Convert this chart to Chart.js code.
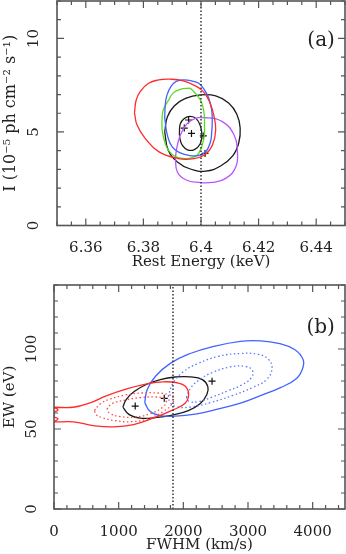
<!DOCTYPE html>
<html lang="en">
<head>
<meta charset="UTF-8">
<script src="https://cdn.jsdelivr.net/npm/chart.js@4.4.0/dist/chart.umd.min.js"></script>
<title>Fe K line contours</title>
<style>
  body { margin: 0; background: #fff; }
  .panel { position: absolute; left: 0; width: 346px; }
  #panelA { top: 0; height: 280px; }
  #panelB { top: 280px; height: 274px; }
</style>
</head>
<body>
<div class="panel" id="panelA"><canvas id="chartA"></canvas></div>
<div class="panel" id="panelB"><canvas id="chartB"></canvas></div>
<script>
// ---- panel (a): rest energy (keV) vs line intensity (1e-5 ph/cm2/s)
const energyTicks = [6.36, 6.38, 6.40, 6.42, 6.44];
const intensTicks = [0, 5, 10];
const restLine = 6.4;

const redE = [6.3769,6.3775,6.3789,6.3818,6.3853,6.3893,6.3939,6.3981,6.4009,6.4030,6.4044,6.4051,6.4040,6.4012,6.3970,6.3921,6.3853,6.3806,6.3778];
const redI = [6.02,6.71,7.16,7.60,7.78,7.82,7.73,7.46,7.14,6.60,5.91,5.11,4.31,3.77,3.56,3.58,3.95,4.66,5.37];
const blueE = [6.3874,6.3876,6.3882,6.3897,6.3914,6.3939,6.3967,6.3992,6.4012,6.4027,6.4037,6.4039,6.4037,6.4033,6.4016,6.3991,6.3960,6.3928,6.3900,6.3883];
const blueI = [5.75,6.44,6.98,7.46,7.70,7.78,7.73,7.60,7.25,6.80,6.18,5.55,4.95,4.48,3.93,3.74,3.74,3.88,4.20,4.84];
const greenE = [6.3864,6.3869,6.3888,6.3904,6.3928,6.3953,6.3965,6.3998,6.4010,6.4012,6.4010,6.3992,6.3969,6.3946,6.3911,6.3886,6.3874,6.3866];
const greenI = [5.55,6.18,6.71,7.09,7.27,7.33,7.31,6.71,6.07,5.37,4.66,3.86,3.63,3.58,3.68,4.04,4.48,5.00];
const blackE = [6.3874,6.3883,6.3907,6.3946,6.3998,6.4051,6.4096,6.4124,6.4136,6.4131,6.4110,6.4068,6.4016,6.3963,6.3918,6.3886];
const blackI = [5.00,5.80,6.39,6.79,6.98,6.93,6.55,5.96,5.21,4.41,3.72,3.18,2.91,3.02,3.40,4.04];
const purpleE = [6.3911,6.3918,6.3935,6.3969,6.4016,6.4074,6.4115,6.4126,6.4121,6.4086,6.4039,6.3992,6.3949,6.3918];
const purpleI = [3.61,4.30,5.05,5.64,5.76,5.55,4.84,4.04,3.14,2.52,2.30,2.30,2.43,2.86];
const innerE = [6.3925,6.3928,6.3942,6.3963,6.3984,6.3998,6.4003,6.3997,6.3977,6.3953,6.3935,6.3927];
const innerI = [4.95,5.43,5.72,5.83,5.70,5.32,4.84,4.36,4.06,4.04,4.30,4.63];
const bestE = [6.3957,6.3942,6.3967,6.4008,6.4014];
const bestI = [5.64,5.21,4.92,4.79,3.85];

// ---- panel (b): FWHM (km/s) vs EW (eV)
const fwhmTicks = [0, 1000, 2000, 3000, 4000];
const ewTicks = [0, 50, 100];
const fwhmLine = 1840;

const fwhmRed = [0,299,558,817,1127,1437,1694,1902,2031,2082,2031,1849,1539,1229,919,609,299,0,62,0,0,62];
const ewRed = [63.6,63.6,66.3,70.9,75.1,78.2,79.5,78.9,76.7,71.5,66.3,62.1,56.9,52.7,51.3,52.1,54.5,54.6,56.3,57.7,60.2,61.9];
const fwhmRed90 = [625,713,868,1101,1359,1597,1767,1845,1829,1690,1457,1209,946,744,651];
const ewRed90 = [61.5,65.6,68.7,71.2,72.5,72.5,71.5,69.3,65.9,60.9,56.5,54.6,55.2,57.1,59.0];
const fwhmRed68 = [817,899,1101,1333,1566,1705,1736,1674,1488,1256,1023,868];
const ewRed68 = [62.3,65.9,68.1,69.6,70.0,69.0,67.1,63.4,59.6,57.4,57.8,59.6];
const fwhmBlack = [1065,1116,1240,1426,1643,1876,2108,2294,2379,2364,2263,2077,1829,1566,1333,1163];
const ewBlack = [63.7,68.4,73.4,77.8,80.9,82.5,82.6,80.9,76.5,71.5,65.9,61.5,58.7,57.1,56.8,59.0];
const fwhmBlue = [1403,1442,1566,1798,2108,2465,2883,3193,3472,3720,3852,3844,3751,3503,3193,2883,2496,2186,1876,1643,1488];
const ewBlue = [66.5,74.7,82.8,91.0,97.2,101.6,104.8,105.1,103.5,99.7,93.5,87.8,81.6,75.9,70.9,66.2,62.1,59.3,58.0,58.3,60.9];
const fwhmBlue90 = [1767,1829,1984,2232,2542,2883,3162,3317,3371,3286,3069,2759,2418,2108,1891,1798];
const ewBlue90 = [70.3,77.8,85.3,91.0,95.4,97.2,96.6,93.5,87.8,80.9,75.9,70.9,66.5,63.7,64.0,66.5];
const fwhmBlue68 = [2046,2108,2232,2449,2728,2961,3069,3054,2914,2697,2449,2232,2093];
const ewBlue68 = [69.6,75.3,80.3,85.3,88.8,89.1,86.6,82.2,77.8,74.0,70.0,67.1,67.1];
const fwhmBest = [1256,1705,2444];
const ewBest = [64.3,69.2,79.9];

Chart.defaults.font.family = "'DejaVu Serif', serif";
Chart.defaults.font.size = 15;
Chart.defaults.color = '#222';

function points(xs, ys) {
    return xs.map((x, i) => ({x: x, y: ys[i]}));
}

// closed contour: repeat the first point at the end
function contour(xs, ys, color, dotted) {
    const pts = points(xs, ys);
    pts.push(pts[0]);
    return {
        data: pts,
        showLine: true,
        borderColor: color,
        borderWidth: 1.3,
        borderDash: dotted ? [1.5, 2.5] : [],
        pointRadius: 0,
        tension: 0.45,
        fill: false
    };
}

function vline(x, y0, y1) {
    return {
        data: [{x: x, y: y0}, {x: x, y: y1}],
        showLine: true,
        borderColor: '#333',
        borderWidth: 1.5,
        borderDash: [1.5, 2],
        pointRadius: 0
    };
}

function crosses(xs, ys) {
    return {
        data: points(xs, ys),
        showLine: false,
        pointStyle: 'cross',
        pointRadius: 3.5,
        borderColor: '#111',
        borderWidth: 1.2
    };
}

// frame with inward minor/major ticks on all four sides + panel tag
const frameTicks = {
    id: 'frameTicks',
    afterDatasetsDraw(chart, args, o) {
        const {ctx, chartArea: a} = chart;
        const sx = chart.scales.x, sy = chart.scales.y;
        const isMajor = (v, list, step) => list.some(t => Math.abs(t - v) < step * 1e-3);
        ctx.save();
        ctx.strokeStyle = '#555';
        ctx.lineWidth = 1.2;
        ctx.beginPath();
        for (let i = Math.ceil(sx.min / o.xMinor - 1e-6); i * o.xMinor <= sx.max + 1e-9; i++) {
            const v = i * o.xMinor;
            const len = isMajor(v, o.xTicks, o.xMinor) ? 7 : 4;
            const px = sx.getPixelForValue(v);
            ctx.moveTo(px, a.bottom); ctx.lineTo(px, a.bottom - len);
            ctx.moveTo(px, a.top); ctx.lineTo(px, a.top + len);
        }
        for (let i = Math.ceil(sy.min / o.yMinor - 1e-6); i * o.yMinor <= sy.max + 1e-9; i++) {
            const v = i * o.yMinor;
            const len = isMajor(v, o.yTicks, o.yMinor) ? 7 : 4;
            const py = sy.getPixelForValue(v);
            ctx.moveTo(a.left, py); ctx.lineTo(a.left + len, py);
            ctx.moveTo(a.right, py); ctx.lineTo(a.right - len, py);
        }
        ctx.stroke();
        ctx.lineWidth = 1.6;
        ctx.strokeRect(a.left, a.top, a.width, a.height);
        ctx.fillStyle = '#222';
        ctx.font = "20px 'DejaVu Serif'";
        ctx.textAlign = 'center';
        ctx.textBaseline = 'middle';
        ctx.fillText(o.tag, sx.getPixelForValue(o.tagAt[0]), sy.getPixelForValue(o.tagAt[1]));
        ctx.restore();
    }
};

// keep the plot box exactly where the axes say, no label overflow padding
function noPad(s) {
    s.paddingTop = 0; s.paddingBottom = 0; s.paddingLeft = 0; s.paddingRight = 0;
}

function axes(o) {
    return {
        x: {
            type: 'linear', min: o.xMin, max: o.xMax,
            grid: {display: false}, border: {display: false},
            afterBuildTicks: s => { s.ticks = o.xTicks.map(v => ({value: v})); },
            afterFit: s => { s.height = o.xHeight; noPad(s); },
            ticks: {padding: 6, autoSkip: false, maxRotation: 0,
                callback: v => String(+v.toFixed(3))},
            title: {display: true, text: o.xTitle, padding: {top: 0, bottom: o.xTitlePad}}
        },
        y: {
            type: 'linear', min: o.yMin, max: o.yMax,
            grid: {display: false}, border: {display: false},
            afterBuildTicks: s => { s.ticks = o.yTicks.map(v => ({value: v})); },
            afterFit: s => { s.width = o.yWidth; noPad(s); },
            ticks: {padding: o.yPad, autoSkip: false, minRotation: 90, maxRotation: 90,
                crossAlign: 'center', callback: v => String(v)},
            title: {display: true, text: o.yTitle, font: {size: o.yTitleSize},
                padding: {top: 1, bottom: 0}}
        }
    };
}

const optionsA = {
    responsive: true,
    maintainAspectRatio: false,
    animation: false,
    layout: {autoPadding: false, padding: {top: 1, right: 1}},
    scales: axes({
        xMin: 6.35, xMax: 6.45, xTicks: energyTicks, xHeight: 54.5, xTitlePad: 9,
        xTitle: 'Rest Energy (keV)',
        yMin: 0, yMax: 12, yTicks: intensTicks, yWidth: 57, yPad: 5,
        yTitle: 'I (10⁻⁵ ph cm⁻² s⁻¹)', yTitleSize: 16
    }),
    plugins: {
        legend: {display: false},
        tooltip: {enabled: false},
        frameTicks: {xMinor: 0.005, yMinor: 1, xTicks: energyTicks, yTicks: intensTicks,
            tag: '(a)', tagAt: [6.4417, 9.88]}
    }
};

const optionsB = {
    responsive: true,
    maintainAspectRatio: false,
    animation: false,
    layout: {autoPadding: false, padding: {top: 5, right: 1}},
    scales: axes({
        xMin: 0, xMax: 4500, xTicks: fwhmTicks, xHeight: 45, xTitlePad: 0,
        xTitle: 'FWHM (km/s)',
        yMin: 0, yMax: 140, yTicks: ewTicks, yWidth: 54, yPad: 0,
        yTitle: 'EW (eV)', yTitleSize: 15
    }),
    plugins: {
        legend: {display: false},
        tooltip: {enabled: false},
        frameTicks: {xMinor: 200, yMinor: 10, xTicks: fwhmTicks, yTicks: ewTicks,
            tag: '(b)', tagAt: [4123, 113.4]}
    }
};

new Chart(document.getElementById('chartA'), {
    type: 'scatter',
    data: {
        datasets: [
            vline(restLine, 0, 12),
            contour(redE, redI, '#ff2a2a'),
            contour(blueE, blueI, '#4262ff'),
            contour(greenE, greenI, '#55dd22'),
            contour(purpleE, purpleI, '#b855ff'),
            contour(blackE, blackI, '#1a1a1a'),
            contour(innerE, innerI, '#1a1a1a'),
            crosses(bestE, bestI)
        ]
    },
    options: optionsA,
    plugins: [frameTicks]
});

new Chart(document.getElementById('chartB'), {
    type: 'scatter',
    data: {
        datasets: [
            vline(fwhmLine, 0, 140),
            contour(fwhmRed, ewRed, '#ff2a2a'),
            contour(fwhmRed90, ewRed90, '#ff4a4a', true),
            contour(fwhmRed68, ewRed68, '#ff4a4a', true),
            contour(fwhmBlue, ewBlue, '#4262ff'),
            contour(fwhmBlue90, ewBlue90, '#5a78ff', true),
            contour(fwhmBlue68, ewBlue68, '#5a78ff', true),
            contour(fwhmBlack, ewBlack, '#1a1a1a'),
            crosses(fwhmBest, ewBest)
        ]
    },
    options: optionsB,
    plugins: [frameTicks]
});
</script>
</body>
</html>
